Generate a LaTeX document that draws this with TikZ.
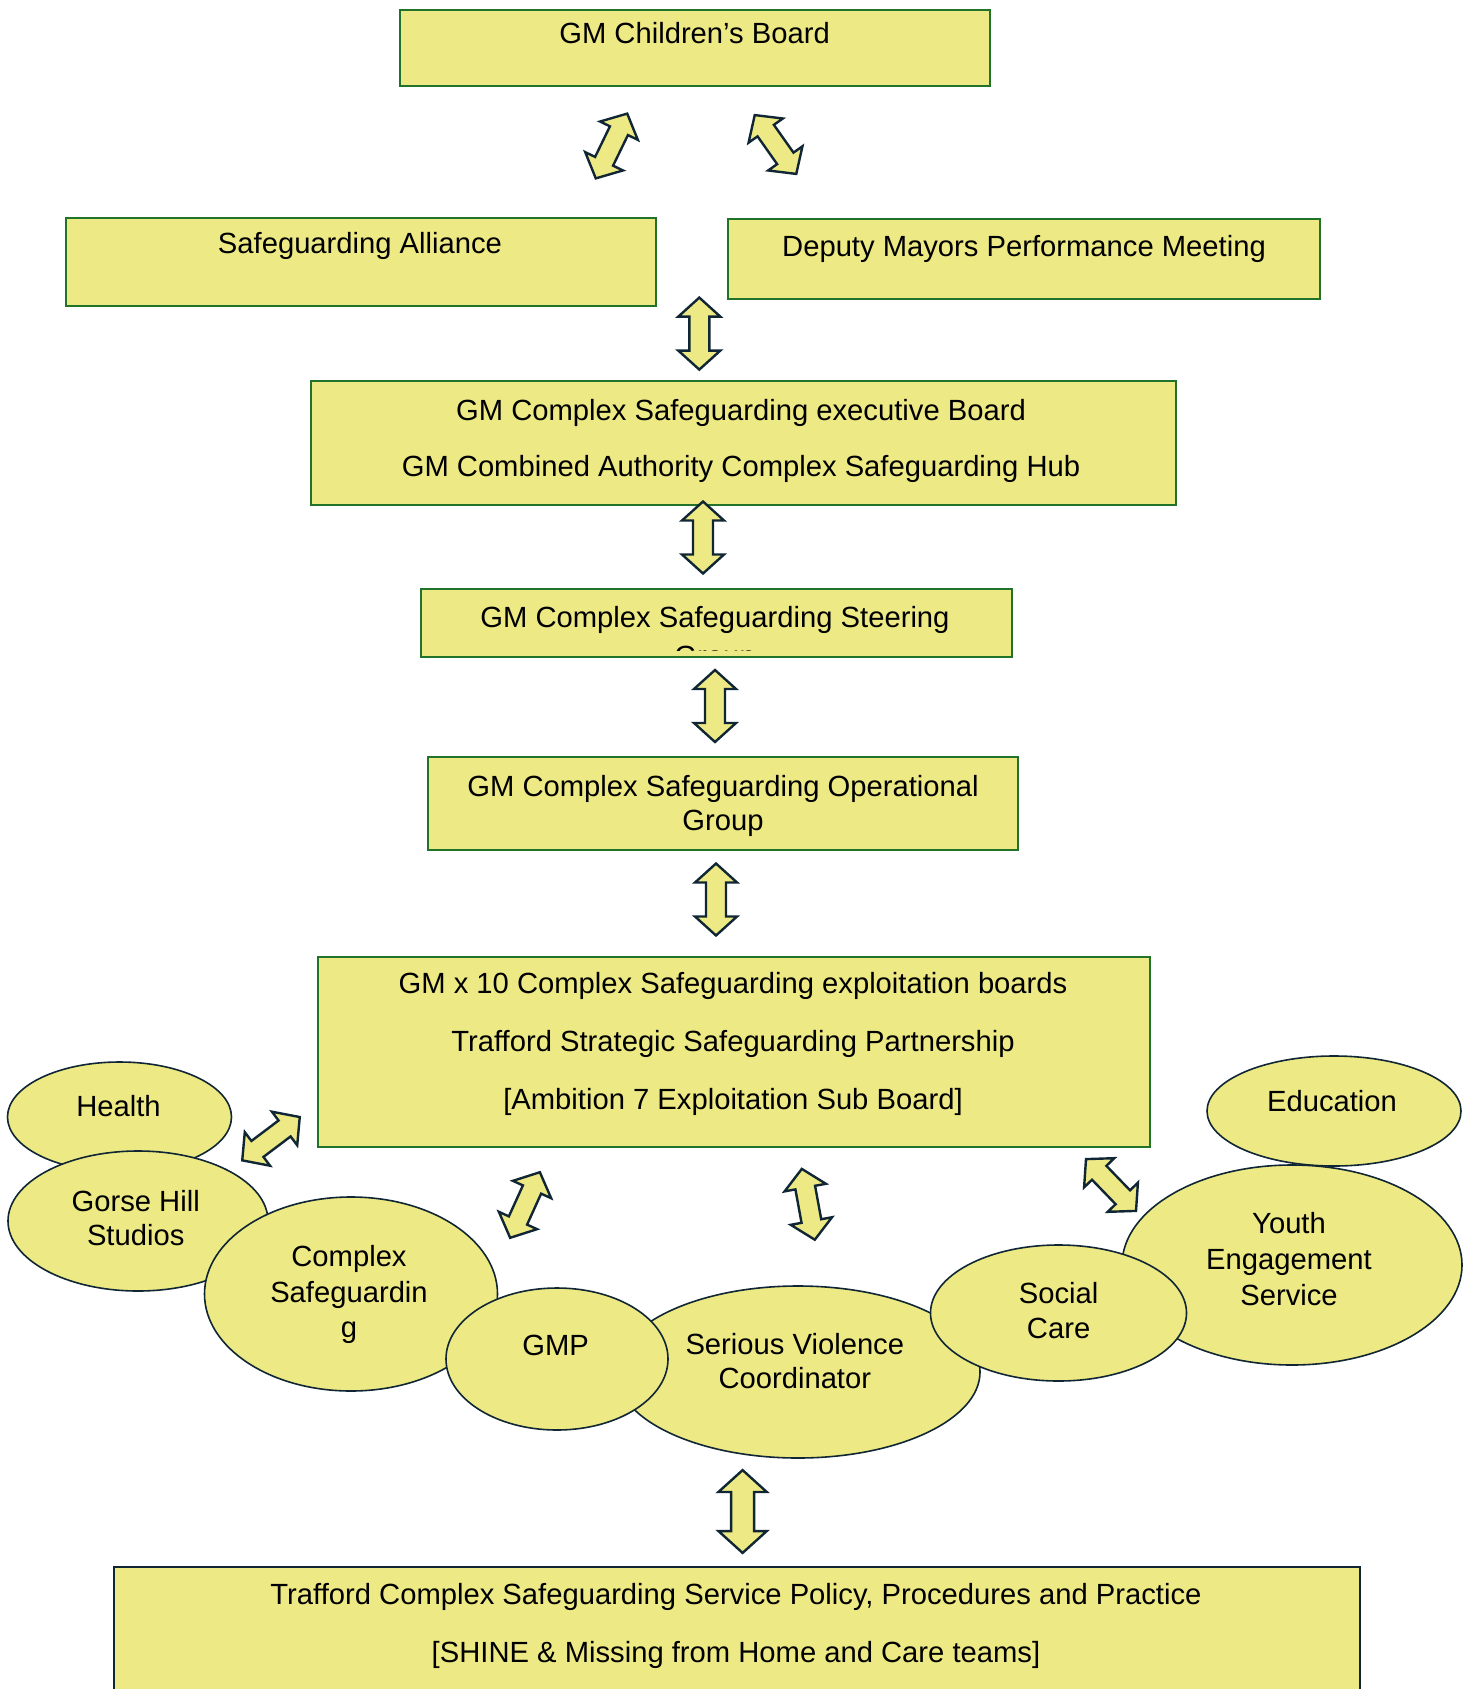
\documentclass[tikz,border=0pt]{standalone}
\usepackage{fontspec}
\setmainfont{Liberation Sans}
\usepackage{tikz}
\usetikzlibrary{shapes.geometric}

\definecolor{boxfill}{RGB}{237,233,132}
\definecolor{boxline}{RGB}{32,115,40}
\definecolor{navyline}{RGB}{16,38,52}

\tikzset{
  board/.style={draw=boxline,line width=1pt,fill=boxfill,inner sep=0pt},
  oval/.style={ellipse,draw=navyline,line width=0.8pt,fill=boxfill,inner sep=0pt},
  lbl/.style={font=\fontsize{14.6}{17.25}\selectfont,inner sep=0pt,align=center},
  arrowbody/.style={draw=navyline,line width=1.2pt,fill=boxfill,line join=miter},
  dblarrow/.pic={
    \draw[arrowbody] (-36,0) -- (-17,21) -- (-17,10) -- (17,10) -- (17,21) -- (36,0)
      -- (17,-21) -- (17,-10) -- (-17,-10) -- (-17,-21) -- cycle;
  }
}

\begin{document}
\begin{tikzpicture}[x=0.5pt,y=0.5pt,yscale=-1,xscale=1]
  \useasboundingbox (0,0) rectangle (1470,1689);

  % boxes
  \node[board,minimum width=295pt,minimum height=38pt] (cboard) at (694.6,47.6) {};
  \node[board,minimum width=295pt,minimum height=44pt] (alliance) at (360.7,261.6) {};
  \node[board,minimum width=296pt,minimum height=40pt] (mayors) at (1024,259.5) {};
  \node[board,minimum width=432.5pt,minimum height=62pt] (exec) at (743.5,443) {};
  \node[board,minimum width=295.5pt,minimum height=34pt] (steer) at (716.5,623) {};
  \node[board,minimum width=295pt,minimum height=46.3pt] (oper) at (722.6,803.3) {};
  \node[board,minimum width=416pt,minimum height=95pt] (boards) at (733.9,1052) {};
  \node[board,draw=navyline,minimum width=623pt,minimum height=68pt] (policy) at (737,1635) {};

  \node[lbl,anchor=base] (cboardtxt) at (694.6,44) {GM Children’s Board};
  \node[lbl,anchor=base] (alliancetxt) at (360,254) {Safeguarding Alliance};
  \node[lbl,anchor=base] (mayorstxt) at (1024,257) {Deputy Mayors Performance Meeting};
  \node[lbl,font=\fontsize{14.6}{28}\selectfont] (exectxt) at (741,441)
    {GM Complex Safeguarding executive Board\\GM Combined Authority Complex Safeguarding Hub};
  \begin{scope}
    \clip (421,589) rectangle (1012,650);
    \node[lbl,font=\fontsize{14.6}{19.5}\selectfont] (steertxt) at (715,639.5)
      {GM Complex Safeguarding Steering\\Group};
  \end{scope}
  \node[lbl,font=\fontsize{14.6}{16.75}\selectfont] (opertxt) at (723,805.7)
    {GM Complex Safeguarding Operational\\Group};
  \node[lbl,font=\fontsize{14.6}{29}\selectfont] (boardstxt) at (733,1044)
    {GM x 10 Complex Safeguarding exploitation boards\\Trafford Strategic Safeguarding Partnership\\{[Ambition 7 Exploitation Sub Board]}};
  \node[lbl,font=\fontsize{14.6}{29}\selectfont] (policytxt) at (736,1626)
    {Trafford Complex Safeguarding Service Policy, Procedures and Practice\\{[SHINE \& Missing from Home and Care teams]}};

  % partner ovals
  \node[oval,minimum width=112pt,minimum height=55pt] (health) at (119.5,1117) {};
  \node[oval,minimum width=130pt,minimum height=70pt] (gorse) at (138,1221) {};
  \node[oval,minimum width=146.5pt,minimum height=97pt] (complex) at (351,1294) {};
  \node[oval,minimum width=182pt,minimum height=86pt] (svc) at (798,1372) {};
  \node[oval,minimum width=111pt,minimum height=71pt] (gmp) at (557,1359) {};
  \node[oval,minimum width=127pt,minimum height=55pt] (education) at (1334,1111) {};
  \node[oval,minimum width=170pt,minimum height=100pt] (youth) at (1292,1265) {};
  \node[oval,minimum width=128pt,minimum height=68pt] (social) at (1058.5,1313) {};

  \node[lbl,anchor=base] (healthtxt) at (118.5,1116) {Health};
  \node[lbl] (gorsetxt) at (135.7,1218) {Gorse Hill\\Studios};
  \node[lbl,font=\fontsize{14.6}{17.75}\selectfont] (complextxt) at (349,1294.5) {Complex\\Safeguardin\\g};
  \node[lbl,anchor=base] (gmptxt) at (555.7,1355) {GMP};
  \node[lbl] (svctxt) at (794.8,1361) {Serious Violence\\Coordinator};
  \node[lbl,anchor=base] (educationtxt) at (1332,1111.7) {Education};
  \node[lbl,font=\fontsize{14.6}{18}\selectfont] (youthtxt) at (1289,1259) {Youth\\Engagement\\Service};
  \node[lbl] (socialtxt) at (1058.6,1310.5) {Social\\Care};

  % block arrows
  \pic[rotate=64.1] (a1) at (611.5,146) {dblarrow};
  \pic[rotate=-54.8] (a2) at (775.5,144.5) {dblarrow};
  \pic[rotate=90] (a3) at (699.3,333.6) {dblarrow};
  \pic[rotate=90] (a4) at (703,537.5) {dblarrow};
  \pic[rotate=90] (a5) at (715,706) {dblarrow};
  \pic[rotate=90] (a6) at (716,899.5) {dblarrow};
  \pic[rotate=37] (a7) at (271,1138.7) {dblarrow};
  \pic[rotate=65.6] (a8) at (525,1205) {dblarrow};
  \pic[rotate=-79.6] (a9) at (808.3,1204.3) {dblarrow};
  \pic[rotate=-46] (a10) at (1111,1185) {dblarrow};
  \pic[rotate=90,scale=1.15] (a11) at (742.6,1511.5) {dblarrow};
\end{tikzpicture}
\end{document}
